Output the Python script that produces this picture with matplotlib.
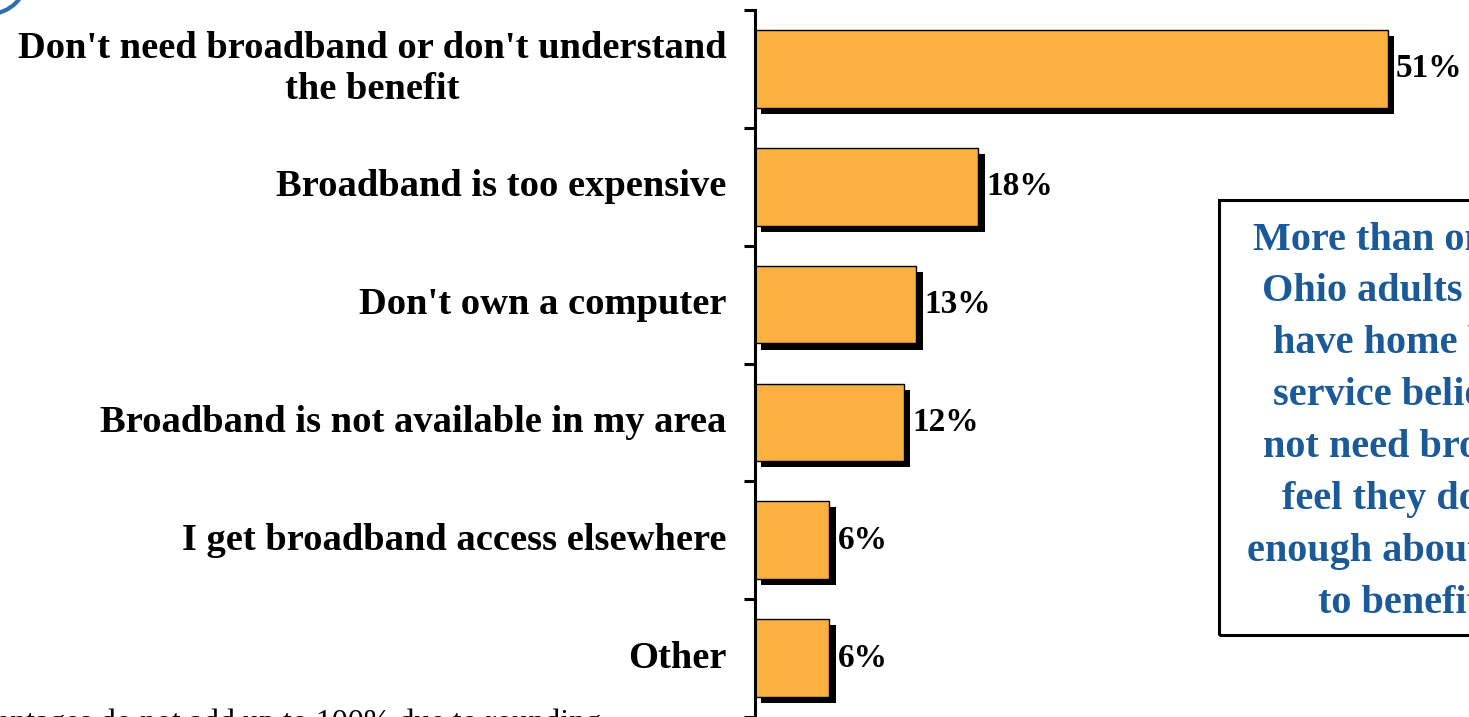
import matplotlib.pyplot as plt
from matplotlib.patches import Rectangle, Ellipse

# data
reasons = ["Don't need broadband or don't understand\nthe benefit",
           "Broadband is too expensive",
           "Don't own a computer",
           "Broadband is not available in my area",
           "I get broadband access elsewhere",
           "Other"]
pct = [51, 18, 13, 12, 6, 6]
labels = ["51%", "18%", "13%", "12%", "6%", "6%"]

# callout text, one entry per line (box is cut by the right edge)
callout_lines = ["More than one-half of",
                 "Ohio adults who do",
                 "have home broadband",
                 "service believe they do",
                 "not need broadband or",
                 "feel they do not know",
                 "enough about it",
                 "to benefit."]
callout_x = [1253, 1262, 1273, 1273, 1263, 1282, 1247, 1318]
note = "Percentages do not add up to 100% due to rounding."

serif = ['Liberation Serif', 'DejaVu Serif']
bar_color = '#FBB040'
blue = '#1A5A98'
W, H = 1469, 717

fig = plt.figure(figsize=(W / 100, H / 100), dpi=100)
ax = fig.add_axes([755 / W, 0, 1 - 755 / W, 707 / H])

ypos = list(range(len(pct)))
h = 0.66
# drop shadow
ax.barh([y + 0.052 for y in ypos], pct, height=h, left=0.5,
        color='black', zorder=1)
ax.barh(ypos, pct, height=h, color=bar_color, edgecolor='black',
        linewidth=1.0, zorder=2)

for y, v, t in zip(ypos, pct, labels):
    ax.text(v + 0.65, y, t, va='center', ha='left', fontsize=24,
            fontweight='bold', family=serif)

ax.set_xlim(0, (W - 755) / 12.41)
ax.set_ylim(5.5, -0.5)

for y, t in zip(ypos, reasons):
    ax.text(-2.3, y, t, ha='right', va='center', fontsize=27.7,
            fontweight='bold', family=serif, multialignment='center',
            linespacing=1.2)

ax.set_yticks([y - 0.5 for y in range(len(pct) + 1)])
ax.set_yticklabels([])
ax.tick_params(axis='y', direction='out', length=8, width=2.2)
ax.set_xticks([])
for s in ['top', 'right', 'bottom']:
    ax.spines[s].set_visible(False)
ax.spines['left'].set_linewidth(2.2)

# callout box (runs off the right edge)
fig.patches.append(Rectangle((1219 / W, 1 - 635 / H), 0.3, 435 / H,
                             transform=fig.transFigure, fill=False,
                             edgecolor='black', linewidth=2.2))
for i, (line, x) in enumerate(zip(callout_lines, callout_x)):
    fig.text(x / W, 1 - (240 + i * 51.9) / H, line, ha='left', va='center',
             fontsize=29, fontweight='bold', color=blue, family=serif)

# footnote, mostly below the bottom edge
fig.text(-61 / W, 1 - 731 / H, note, ha='left', va='baseline',
         fontsize=23, family=serif)

# corner of the logo at top left
fig.patches.append(Ellipse((-11 / W, 1 + 24 / H), 76 / W, 76 / H,
                           transform=fig.transFigure, fill=False,
                           edgecolor='#2E6DB0', linewidth=3))

fig.savefig('out.png', dpi=100)
